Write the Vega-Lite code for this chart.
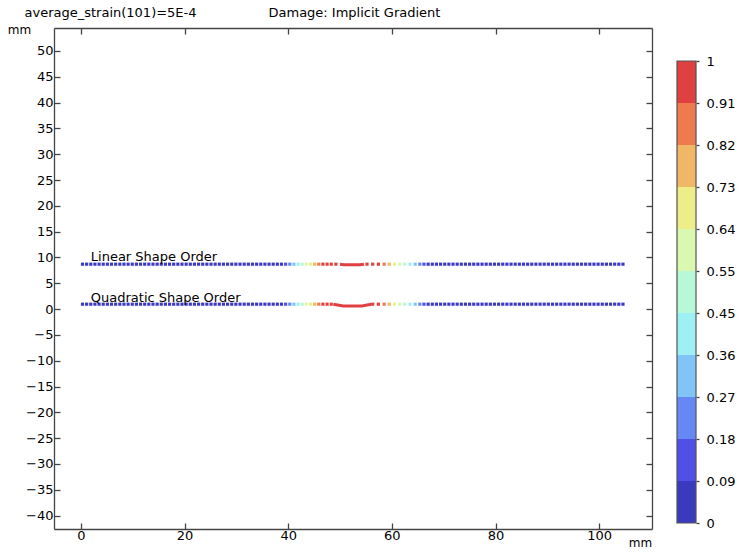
{
"$schema": "https://vega.github.io/schema/vega-lite/v6.json",
"width": 598, "height": 501,
"autosize": "none",
"padding": {"left": 54, "top": 28, "right": 85, "bottom": 23},
"background": "white",
"config": {"font": "DejaVu Sans", "view": {"stroke": null},
 "axis": {"grid": false, "domainColor": "#444", "tickColor": "#444", "labelColor": "#000", "labelFont": "DejaVu Sans", "labelFontSize": 13, "tickSize": -6, "domainWidth": 1.3, "tickWidth": 1.3, "titleFont": "DejaVu Sans", "titleFontSize": 13, "titleFontWeight": "normal", "titleColor": "#000"}},
"datasets": {
 "pts": [
{"s":"L","x":0.3,"y":8.7,"d":0},{"s":"L","x":1.1,"y":8.7,"d":0},{"s":"L","x":1.9,"y":8.7,"d":0},{"s":"L","x":2.7,"y":8.7,"d":0},{"s":"L","x":3.5,"y":8.7,"d":0},{"s":"L","x":4.3,"y":8.7,"d":0},{"s":"L","x":5.1,"y":8.7,"d":0},{"s":"L","x":5.9,"y":8.7,"d":0},{"s":"L","x":6.7,"y":8.7,"d":0},{"s":"L","x":7.5,"y":8.7,"d":0},
{"s":"L","x":8.3,"y":8.7,"d":0},{"s":"L","x":9.1,"y":8.7,"d":0},{"s":"L","x":9.9,"y":8.7,"d":0},{"s":"L","x":10.7,"y":8.7,"d":0},{"s":"L","x":11.5,"y":8.7,"d":0},{"s":"L","x":12.3,"y":8.7,"d":0},{"s":"L","x":13.1,"y":8.7,"d":0},{"s":"L","x":13.9,"y":8.7,"d":0},{"s":"L","x":14.7,"y":8.7,"d":0},{"s":"L","x":15.5,"y":8.7,"d":0},
{"s":"L","x":16.3,"y":8.7,"d":0},{"s":"L","x":17.1,"y":8.7,"d":0},{"s":"L","x":17.9,"y":8.7,"d":0},{"s":"L","x":18.7,"y":8.7,"d":0},{"s":"L","x":19.5,"y":8.7,"d":0},{"s":"L","x":20.3,"y":8.7,"d":0},{"s":"L","x":21.1,"y":8.7,"d":0},{"s":"L","x":21.9,"y":8.7,"d":0},{"s":"L","x":22.7,"y":8.7,"d":0},{"s":"L","x":23.5,"y":8.7,"d":0},
{"s":"L","x":24.3,"y":8.7,"d":0},{"s":"L","x":25.1,"y":8.7,"d":0},{"s":"L","x":25.9,"y":8.7,"d":0},{"s":"L","x":26.7,"y":8.7,"d":0},{"s":"L","x":27.5,"y":8.7,"d":0},{"s":"L","x":28.3,"y":8.7,"d":0},{"s":"L","x":29.1,"y":8.7,"d":0},{"s":"L","x":29.9,"y":8.7,"d":0},{"s":"L","x":30.7,"y":8.7,"d":0},{"s":"L","x":31.5,"y":8.7,"d":0},
{"s":"L","x":32.3,"y":8.7,"d":0},{"s":"L","x":33.1,"y":8.7,"d":0},{"s":"L","x":33.9,"y":8.7,"d":0},{"s":"L","x":34.7,"y":8.7,"d":0},{"s":"L","x":35.5,"y":8.7,"d":0},{"s":"L","x":36.3,"y":8.7,"d":0},{"s":"L","x":37.1,"y":8.7,"d":0},{"s":"L","x":37.9,"y":8.7,"d":0},{"s":"L","x":38.7,"y":8.7,"d":0.02},
{"s":"L","x":39.5,"y":8.7,"d":0.13},{"s":"L","x":40.3,"y":8.7,"d":0.22},{"s":"L","x":41.1,"y":8.7,"d":0.31},{"s":"L","x":41.9,"y":8.7,"d":0.4},{"s":"L","x":42.7,"y":8.7,"d":0.5},{"s":"L","x":43.5,"y":8.7,"d":0.59},{"s":"L","x":44.3,"y":8.7,"d":0.68},{"s":"L","x":45.1,"y":8.7,"d":0.77},{"s":"L","x":45.9,"y":8.7,"d":0.86},{"s":"L","x":46.7,"y":8.7,"d":0.95},{"s":"L","x":47.5,"y":8.7,"d":0.97},{"s":"L","x":48.3,"y":8.7,"d":0.99},{"s":"L","x":49.2,"y":8.7,"d":1},
{"s":"L","x":55.2,"y":8.7,"d":1},{"s":"L","x":56.3,"y":8.7,"d":0.97},{"s":"L","x":57.4,"y":8.7,"d":0.93},{"s":"L","x":58.5,"y":8.7,"d":0.86},{"s":"L","x":59.5,"y":8.7,"d":0.77},{"s":"L","x":60.5,"y":8.7,"d":0.68},{"s":"L","x":61.5,"y":8.7,"d":0.59},{"s":"L","x":62.5,"y":8.7,"d":0.5},{"s":"L","x":63.5,"y":8.7,"d":0.4},{"s":"L","x":64.5,"y":8.7,"d":0.31},{"s":"L","x":65.4,"y":8.7,"d":0.22},{"s":"L","x":66.2,"y":8.7,"d":0.13},{"s":"L","x":67.0,"y":8.7,"d":0.05},
{"s":"L","x":67.8,"y":8.7,"d":0},{"s":"L","x":68.6,"y":8.7,"d":0},{"s":"L","x":69.4,"y":8.7,"d":0},{"s":"L","x":70.2,"y":8.7,"d":0},{"s":"L","x":71.0,"y":8.7,"d":0},{"s":"L","x":71.8,"y":8.7,"d":0},{"s":"L","x":72.6,"y":8.7,"d":0},{"s":"L","x":73.4,"y":8.7,"d":0},{"s":"L","x":74.2,"y":8.7,"d":0},{"s":"L","x":75.0,"y":8.7,"d":0},
{"s":"L","x":75.8,"y":8.7,"d":0},{"s":"L","x":76.6,"y":8.7,"d":0},{"s":"L","x":77.4,"y":8.7,"d":0},{"s":"L","x":78.2,"y":8.7,"d":0},{"s":"L","x":79.0,"y":8.7,"d":0},{"s":"L","x":79.8,"y":8.7,"d":0},{"s":"L","x":80.6,"y":8.7,"d":0},{"s":"L","x":81.4,"y":8.7,"d":0},{"s":"L","x":82.2,"y":8.7,"d":0},{"s":"L","x":83.0,"y":8.7,"d":0},
{"s":"L","x":83.8,"y":8.7,"d":0},{"s":"L","x":84.6,"y":8.7,"d":0},{"s":"L","x":85.4,"y":8.7,"d":0},{"s":"L","x":86.2,"y":8.7,"d":0},{"s":"L","x":87.0,"y":8.7,"d":0},{"s":"L","x":87.8,"y":8.7,"d":0},{"s":"L","x":88.6,"y":8.7,"d":0},{"s":"L","x":89.4,"y":8.7,"d":0},{"s":"L","x":90.2,"y":8.7,"d":0},{"s":"L","x":91.0,"y":8.7,"d":0},
{"s":"L","x":91.8,"y":8.7,"d":0},{"s":"L","x":92.6,"y":8.7,"d":0},{"s":"L","x":93.4,"y":8.7,"d":0},{"s":"L","x":94.2,"y":8.7,"d":0},{"s":"L","x":95.0,"y":8.7,"d":0},{"s":"L","x":95.8,"y":8.7,"d":0},{"s":"L","x":96.6,"y":8.7,"d":0},{"s":"L","x":97.4,"y":8.7,"d":0},{"s":"L","x":98.2,"y":8.7,"d":0},{"s":"L","x":99.0,"y":8.7,"d":0},
{"s":"L","x":99.8,"y":8.7,"d":0},{"s":"L","x":100.6,"y":8.7,"d":0},{"s":"L","x":101.4,"y":8.7,"d":0},{"s":"L","x":102.2,"y":8.7,"d":0},{"s":"L","x":103.0,"y":8.7,"d":0},{"s":"L","x":103.8,"y":8.7,"d":0},{"s":"L","x":104.6,"y":8.7,"d":0},
{"s":"Q","x":0.3,"y":0.95,"d":0},{"s":"Q","x":1.1,"y":0.95,"d":0},{"s":"Q","x":1.9,"y":0.95,"d":0},{"s":"Q","x":2.7,"y":0.95,"d":0},{"s":"Q","x":3.5,"y":0.95,"d":0},{"s":"Q","x":4.3,"y":0.95,"d":0},{"s":"Q","x":5.1,"y":0.95,"d":0},{"s":"Q","x":5.9,"y":0.95,"d":0},{"s":"Q","x":6.7,"y":0.95,"d":0},{"s":"Q","x":7.5,"y":0.95,"d":0},
{"s":"Q","x":8.3,"y":0.95,"d":0},{"s":"Q","x":9.1,"y":0.95,"d":0},{"s":"Q","x":9.9,"y":0.95,"d":0},{"s":"Q","x":10.7,"y":0.95,"d":0},{"s":"Q","x":11.5,"y":0.95,"d":0},{"s":"Q","x":12.3,"y":0.95,"d":0},{"s":"Q","x":13.1,"y":0.95,"d":0},{"s":"Q","x":13.9,"y":0.95,"d":0},{"s":"Q","x":14.7,"y":0.95,"d":0},{"s":"Q","x":15.5,"y":0.95,"d":0},
{"s":"Q","x":16.3,"y":0.95,"d":0},{"s":"Q","x":17.1,"y":0.95,"d":0},{"s":"Q","x":17.9,"y":0.95,"d":0},{"s":"Q","x":18.7,"y":0.95,"d":0},{"s":"Q","x":19.5,"y":0.95,"d":0},{"s":"Q","x":20.3,"y":0.95,"d":0},{"s":"Q","x":21.1,"y":0.95,"d":0},{"s":"Q","x":21.9,"y":0.95,"d":0},{"s":"Q","x":22.7,"y":0.95,"d":0},{"s":"Q","x":23.5,"y":0.95,"d":0},
{"s":"Q","x":24.3,"y":0.95,"d":0},{"s":"Q","x":25.1,"y":0.95,"d":0},{"s":"Q","x":25.9,"y":0.95,"d":0},{"s":"Q","x":26.7,"y":0.95,"d":0},{"s":"Q","x":27.5,"y":0.95,"d":0},{"s":"Q","x":28.3,"y":0.95,"d":0},{"s":"Q","x":29.1,"y":0.95,"d":0},{"s":"Q","x":29.9,"y":0.95,"d":0},{"s":"Q","x":30.7,"y":0.95,"d":0},{"s":"Q","x":31.5,"y":0.95,"d":0},
{"s":"Q","x":32.3,"y":0.95,"d":0},{"s":"Q","x":33.1,"y":0.95,"d":0},{"s":"Q","x":33.9,"y":0.95,"d":0},{"s":"Q","x":34.7,"y":0.95,"d":0},{"s":"Q","x":35.5,"y":0.95,"d":0},{"s":"Q","x":36.3,"y":0.95,"d":0},{"s":"Q","x":37.1,"y":0.95,"d":0},{"s":"Q","x":37.9,"y":0.95,"d":0},{"s":"Q","x":38.7,"y":0.95,"d":0.02},
{"s":"Q","x":39.5,"y":0.95,"d":0.12},{"s":"Q","x":40.3,"y":0.95,"d":0.21},{"s":"Q","x":41.1,"y":0.95,"d":0.3},{"s":"Q","x":41.9,"y":0.95,"d":0.4},{"s":"Q","x":42.7,"y":0.95,"d":0.5},{"s":"Q","x":43.5,"y":0.95,"d":0.59},{"s":"Q","x":44.3,"y":0.95,"d":0.68},{"s":"Q","x":45.1,"y":0.95,"d":0.77},{"s":"Q","x":45.9,"y":0.95,"d":0.86},{"s":"Q","x":46.7,"y":0.95,"d":0.95},{"s":"Q","x":47.5,"y":0.95,"d":0.97},{"s":"Q","x":48.3,"y":0.95,"d":0.99},
{"s":"Q","x":56.3,"y":0.95,"d":0.97},{"s":"Q","x":57.4,"y":0.95,"d":0.93},{"s":"Q","x":58.5,"y":0.95,"d":0.86},{"s":"Q","x":59.5,"y":0.95,"d":0.77},{"s":"Q","x":60.5,"y":0.95,"d":0.68},{"s":"Q","x":61.5,"y":0.95,"d":0.59},{"s":"Q","x":62.5,"y":0.95,"d":0.5},{"s":"Q","x":63.5,"y":0.95,"d":0.4},{"s":"Q","x":64.5,"y":0.95,"d":0.31},{"s":"Q","x":65.4,"y":0.95,"d":0.22},{"s":"Q","x":66.2,"y":0.95,"d":0.13},{"s":"Q","x":67.0,"y":0.95,"d":0.05},
{"s":"Q","x":67.8,"y":0.95,"d":0},{"s":"Q","x":68.6,"y":0.95,"d":0},{"s":"Q","x":69.4,"y":0.95,"d":0},{"s":"Q","x":70.2,"y":0.95,"d":0},{"s":"Q","x":71.0,"y":0.95,"d":0},{"s":"Q","x":71.8,"y":0.95,"d":0},{"s":"Q","x":72.6,"y":0.95,"d":0},{"s":"Q","x":73.4,"y":0.95,"d":0},{"s":"Q","x":74.2,"y":0.95,"d":0},{"s":"Q","x":75.0,"y":0.95,"d":0},
{"s":"Q","x":75.8,"y":0.95,"d":0},{"s":"Q","x":76.6,"y":0.95,"d":0},{"s":"Q","x":77.4,"y":0.95,"d":0},{"s":"Q","x":78.2,"y":0.95,"d":0},{"s":"Q","x":79.0,"y":0.95,"d":0},{"s":"Q","x":79.8,"y":0.95,"d":0},{"s":"Q","x":80.6,"y":0.95,"d":0},{"s":"Q","x":81.4,"y":0.95,"d":0},{"s":"Q","x":82.2,"y":0.95,"d":0},{"s":"Q","x":83.0,"y":0.95,"d":0},
{"s":"Q","x":83.8,"y":0.95,"d":0},{"s":"Q","x":84.6,"y":0.95,"d":0},{"s":"Q","x":85.4,"y":0.95,"d":0},{"s":"Q","x":86.2,"y":0.95,"d":0},{"s":"Q","x":87.0,"y":0.95,"d":0},{"s":"Q","x":87.8,"y":0.95,"d":0},{"s":"Q","x":88.6,"y":0.95,"d":0},{"s":"Q","x":89.4,"y":0.95,"d":0},{"s":"Q","x":90.2,"y":0.95,"d":0},{"s":"Q","x":91.0,"y":0.95,"d":0},
{"s":"Q","x":91.8,"y":0.95,"d":0},{"s":"Q","x":92.6,"y":0.95,"d":0},{"s":"Q","x":93.4,"y":0.95,"d":0},{"s":"Q","x":94.2,"y":0.95,"d":0},{"s":"Q","x":95.0,"y":0.95,"d":0},{"s":"Q","x":95.8,"y":0.95,"d":0},{"s":"Q","x":96.6,"y":0.95,"d":0},{"s":"Q","x":97.4,"y":0.95,"d":0},{"s":"Q","x":98.2,"y":0.95,"d":0},{"s":"Q","x":99.0,"y":0.95,"d":0},
{"s":"Q","x":99.8,"y":0.95,"d":0},{"s":"Q","x":100.6,"y":0.95,"d":0},{"s":"Q","x":101.4,"y":0.95,"d":0},{"s":"Q","x":102.2,"y":0.95,"d":0},{"s":"Q","x":103.0,"y":0.95,"d":0},{"s":"Q","x":103.8,"y":0.95,"d":0},{"s":"Q","x":104.6,"y":0.95,"d":0}
 ],
 "crack": [
{"s":"L","o":1,"x":50.0,"y":8.7},{"s":"L","o":2,"x":50.8,"y":8.6},{"s":"L","o":3,"x":53.8,"y":8.6},{"s":"L","o":4,"x":54.6,"y":8.7},
{"s":"Q","o":1,"x":48.7,"y":0.95},{"s":"Q","o":2,"x":50.6,"y":0.62},{"s":"Q","o":3,"x":54.2,"y":0.62},{"s":"Q","o":4,"x":56.0,"y":0.95}
 ],
 "labels": [
{"x":1.9,"y":10.1,"t":"Linear Shape Order"},
{"x":1.9,"y":2.2,"t":"Quadratic Shape Order"}
 ],
 "bins": [
{"lo":0,"hi":0.090909,"m":0.045},{"lo":0.090909,"hi":0.181818,"m":0.136},{"lo":0.181818,"hi":0.272727,"m":0.227},{"lo":0.272727,"hi":0.363636,"m":0.318},{"lo":0.363636,"hi":0.454545,"m":0.409},{"lo":0.454545,"hi":0.545454,"m":0.5},{"lo":0.545454,"hi":0.636363,"m":0.591},{"lo":0.636363,"hi":0.727272,"m":0.682},{"lo":0.727272,"hi":0.818181,"m":0.773},{"lo":0.818181,"hi":0.909090,"m":0.864},{"lo":0.909090,"hi":1,"m":0.955}
 ],
 "frame": [{"lo":0,"hi":1}]
},
"layer": [
 {
  "layer": [
   {
    "data": {"name": "pts"},
    "mark": {"type": "point", "shape": "square", "filled": true, "size": 10, "opacity": 1},
    "encoding": {
     "x": {"field": "x", "type": "quantitative", "scale": {"domain": [-5.2, 110.2], "nice": false, "zero": false},
       "axis": {"orient": "bottom", "values": [0,20,40,60,80,100], "labelPadding": 6, "title": "mm", "titleAngle": 0, "titleX": 586, "titleY": 13, "titleAlign": "center", "titleBaseline": "middle", "titleFontSize": 12}},
     "y": {"field": "y", "type": "quantitative", "scale": {"domain": [-42.6, 54.45], "nice": false, "zero": false},
       "axis": {"orient": "left", "values": [-40,-35,-30,-25,-20,-15,-10,-5,0,5,10,15,20,25,30,35,40,45,50], "labelPadding": 7, "title": "mm", "titleAngle": 0, "titleX": -35, "titleY": 1, "titleAlign": "center", "titleBaseline": "middle", "titleFontSize": 12}},
     "color": {"field": "d", "type": "quantitative",
       "scale": {"type": "quantize", "domain": [0, 1], "nice": false, "range": ["#3a3abf","#5050e6","#6688f5","#80c4f8","#9ef0f5","#b6f8d8","#daf8b0","#eeee88","#f0b866","#ee7a4e","#e04040"]},
       "legend": null}
    }
   },
   {
    "data": {"name": "crack"},
    "mark": {"type": "line", "color": "#e04040", "strokeWidth": 3},
    "encoding": {
     "x": {"field": "x", "type": "quantitative",
       "axis": {"orient": "top", "values": [0,20,40,60,80,100], "labels": false, "title": "Damage: Implicit Gradient", "titleAngle": 0, "titleX": 214, "titleY": -16, "titleAlign": "left", "titleBaseline": "middle"}},
     "y": {"field": "y", "type": "quantitative",
       "axis": {"orient": "right", "values": [-40,-35,-30,-25,-20,-15,-10,-5,0,5,10,15,20,25,30,35,40,45,50], "labels": false, "title": "average_strain(101)=5E-4", "titleAngle": 0, "titleX": -628, "titleY": -16, "titleAlign": "left", "titleBaseline": "middle"}},
     "detail": {"field": "s"},
     "order": {"field": "o", "type": "quantitative"}
    }
   },
   {
    "data": {"name": "labels"},
    "mark": {"type": "text", "align": "left", "baseline": "middle", "fontSize": 13, "font": "DejaVu Sans", "color": "#000"},
    "encoding": {
     "x": {"field": "x", "type": "quantitative", "axis": null},
     "y": {"field": "y", "type": "quantitative", "axis": null},
     "text": {"field": "t"}
    }
   }
  ],
  "resolve": {"axis": {"x": "independent", "y": "independent"}}
 },
 {
  "layer": [
   {
    "data": {"name": "bins"},
    "mark": {"type": "rect", "clip": false},
    "encoding": {
     "x": {"datum": 1.0418, "type": "quantitative", "scale": {"domain": [0, 1], "nice": false, "zero": false}, "axis": null},
     "x2": {"datum": 1.0736},
     "y": {"field": "lo", "type": "quantitative", "scale": {"domain": [-0.012987, 1.071429], "nice": false, "zero": false},
       "axis": {"orient": "right", "offset": 44, "domain": false, "values": [0,0.090909,0.181818,0.272727,0.363636,0.454545,0.545454,0.636363,0.727272,0.818181,0.909090,1], "format": ".2~f", "tickSize": 3, "labelPadding": 7, "labelFontSize": 13, "title": null}},
     "y2": {"field": "hi"},
     "color": {"field": "m", "type": "quantitative", "legend": null,
       "scale": {"type": "quantize", "domain": [0, 1], "nice": false, "range": ["#3a3abf","#5050e6","#6688f5","#80c4f8","#9ef0f5","#b6f8d8","#daf8b0","#eeee88","#f0b866","#ee7a4e","#e04040"]}}
    }
   },
   {
    "data": {"name": "frame"},
    "mark": {"type": "rect", "clip": false, "fill": null, "fillOpacity": 0, "stroke": "#555", "strokeWidth": 1.2},
    "encoding": {
     "x": {"datum": 1.0418, "type": "quantitative"},
     "x2": {"datum": 1.0736},
     "y": {"field": "lo", "type": "quantitative"},
     "y2": {"field": "hi"}
    }
   }
  ]
 }
],
"resolve": {"scale": {"x": "independent", "y": "independent"}, "axis": {"x": "independent", "y": "independent"}}
}
